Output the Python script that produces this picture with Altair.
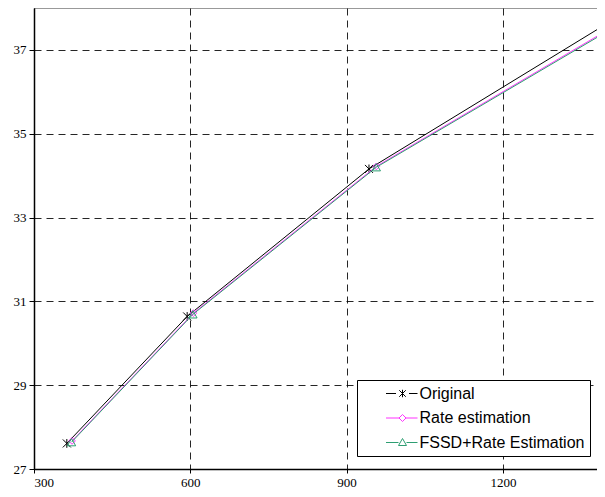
import altair as alt
import pandas as pd

series_names = ["Original", "Rate estimation", "FSSD+Rate Estimation"]
orig_x = [363, 594, 943, 1392]
orig_y = [27.61, 30.64, 34.16, 37.57]
rate_x = [373, 606, 957, 1407]
rate_y = [27.67, 30.72, 34.22, 37.52]
fssd_x = [372, 605, 957, 1407]
fssd_y = [27.64, 30.69, 34.20, 37.49]
x_ticks = [300, 600, 900, 1200]
y_ticks = [27, 29, 31, 33, 35, 37]

colors = ["#000000", "#ff33ff", "#2e9e72"]
asterisk = "M-1,-1L1,1M-1,1L1,-1M0,-1.1L0,1.1"
marker_shapes = [asterisk, "diamond", "triangle-up"]
marker_sizes = [64, 45, 70]
legend_paths = [
    "M-3.3,0L-1.3,0M1.3,0L3.0,0M-0.65,-0.65L0.65,0.65M-0.65,0.65L0.65,-0.65M0,-0.75L0,0.75",
    "M-3.3,0L-0.7,0M0.7,0L3.0,0M0,-0.7L0.7,0L0,0.7L-0.7,0Z",
    "M-3.3,0L-0.8,0M0.8,0L3.0,0M0,-0.8L0.8,0.6L-0.8,0.6Z",
]

rows = []
for name, xs, ys in [(series_names[0], orig_x, orig_y),
                     (series_names[1], rate_x, rate_y),
                     (series_names[2], fssd_x, fssd_y)]:
    for xv, yv in zip(xs, ys):
        rows.append({"series": name, "x": xv, "y": yv})
df = pd.DataFrame(rows)

xs = alt.Scale(domain=[300, 1396], nice=False, zero=False)
ys = alt.Scale(domain=[27, 38], nice=False, zero=False)

x_enc = alt.X("x:Q", scale=xs, axis=alt.Axis(values=x_ticks, title=None, format="d"))
y_enc = alt.Y("y:Q", scale=ys, axis=alt.Axis(values=y_ticks, title=None, format="d"))

layers = []
for name, col, shp, sz in zip(series_names, colors, marker_shapes, marker_sizes):
    base = alt.Chart(df).transform_filter(alt.datum.series == name)
    layers.append(base.mark_line(color=col, strokeWidth=1, clip=True).encode(x=x_enc, y=y_enc))
    layers.append(base.mark_point(shape=shp, size=sz, color=col, filled=False,
                                  strokeWidth=1, opacity=1, clip=True).encode(x=x_enc, y=y_enc))

pad_expr = "datum.label + '" + "\u2003" * 12 + "'"

legend_layer = alt.Chart(df).transform_filter("false").mark_point(filled=False, opacity=1).encode(
    x=x_enc, y=y_enc,
    color=alt.Color("series:N", scale=alt.Scale(domain=series_names, range=colors),
                    legend=alt.Legend(title=None, orient="none", legendX=323, legendY=372,
                                      fillColor="white", strokeColor="black",
                                      padding=5.5, symbolOffset=32, labelOffset=9,
                                      rowPadding=8.5, symbolSize=100, symbolStrokeWidth=1,
                                      labelFont="Liberation Sans", labelFontSize=16,
                                      labelColor="black", labelLimit=800,
                                      labelExpr=pad_expr)),
    shape=alt.Shape("series:N", scale=alt.Scale(domain=series_names, range=legend_paths)),
)

chart = alt.layer(*layers, legend_layer).properties(
    width=571, height=461,
    autosize=alt.AutoSizeParams(type="none"),
    padding={"left": 26, "top": 0, "right": -8, "bottom": 20},
).configure_view(
    stroke="#999999", strokeWidth=1
).configure_axis(
    grid=True, gridColor="black", gridDash=[7, 5], gridWidth=1, gridOpacity=0.85,
    domainColor="black", domainWidth=1.5, tickColor="black", tickSize=5,
    labelFont="Liberation Serif", labelFontSize=13, labelColor="black",
).configure_axisY(labelPadding=3).configure_axisX(labelPadding=3, tickSize=4)

chart.save("out.html", embed_options={"renderer": "svg", "actions": False})
